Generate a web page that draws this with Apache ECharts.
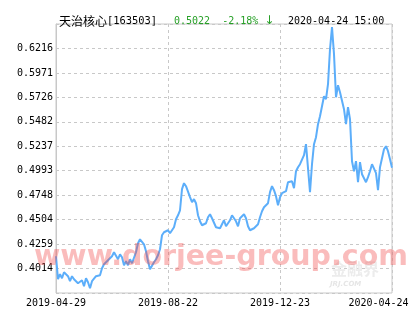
<!DOCTYPE html>
<html>
<head>
<meta charset="utf-8">
<script src="https://cdn.jsdelivr.net/npm/echarts@6/dist/echarts.min.js"></script>
<style>
html,body{margin:0;padding:0;background:#fff;}
#chart{width:415px;height:330px;}
</style>
</head>
<body>
<div id="chart"></div>
<script>
// ---- data ----
var fundName = '天治核心';
var fundCode = '[163503]';
var lastNav = '0.5022';
var lastChange = '-2.18%';
var lastArrow = '↓';
var lastTime = '2020-04-24 15:00';

var xTickLabels = ['2019-04-29', '2019-08-22', '2019-12-23', '2020-04-24'];
var yTickLabels = ['0.4014', '0.4259', '0.4504', '0.4748', '0.4993', '0.5237', '0.5482', '0.5726', '0.5971', '0.6216'];

var navValues = [
  0.4137, 0.3907, 0.3957, 0.3917, 0.3977, 0.3997, 0.3937, 0.3887, 0.3937, 0.3907,
  0.3927, 0.3867, 0.3877, 0.3897, 0.3837, 0.3917, 0.3877, 0.3817, 0.3887, 0.3907,
  0.3937, 0.3917, 0.3947, 0.4017, 0.4057, 0.4067, 0.4097, 0.4107, 0.4137, 0.4177,
  0.4187, 0.4107, 0.4157, 0.4127, 0.4047, 0.4087, 0.4047, 0.4107, 0.4067, 0.4087,
  0.4177, 0.4267, 0.4307, 0.4297, 0.4257, 0.4187, 0.4087, 0.4007, 0.3987, 0.4077,
  0.4107, 0.4147, 0.4207, 0.4347, 0.4377, 0.4367, 0.4397, 0.4367, 0.4387, 0.4427,
  0.4507, 0.4547, 0.4597, 0.4808, 0.4868, 0.4838, 0.4848, 0.4728, 0.4678, 0.4708,
  0.4668, 0.4547, 0.4487, 0.4447, 0.4437, 0.4467, 0.4527, 0.4557, 0.4517, 0.4497,
  0.4427, 0.4407, 0.4417, 0.4457, 0.4497, 0.4437, 0.4417, 0.4497, 0.4547, 0.4547,
  0.4487, 0.4437, 0.4517, 0.4507, 0.4557, 0.4517, 0.4437, 0.4397, 0.4387, 0.4417,
  0.4427, 0.4457, 0.4527, 0.4587, 0.4627, 0.4637, 0.4668, 0.4778, 0.4838, 0.4798,
  0.4738, 0.4647, 0.4728, 0.4768, 0.4768, 0.4788, 0.4878, 0.4898, 0.4888, 0.4818,
  0.4988, 0.5028, 0.5058, 0.5078, 0.5148, 0.5258, 0.5258, 0.4778, 0.5058, 0.5258,
  0.5328, 0.5458, 0.5538, 0.5558, 0.5738, 0.5708, 0.5858, 0.6209, 0.6429, 0.6159,
  0.5728, 0.5848, 0.5778, 0.5778, 0.5608, 0.5458, 0.5628, 0.5508, 0.5088, 0.4988,
  0.5088, 0.4878, 0.5078, 0.4958, 0.4948, 0.4878, 0.4928, 0.4988, 0.5058, 0.5078,
  0.4968, 0.4798, 0.5028, 0.5048, 0.5208, 0.5238, 0.5188, 0.5108, 0.5022
];

// ---- build options ----
var yTickVals = yTickLabels.map(Number);
var yStep = (yTickVals[yTickVals.length - 1] - yTickVals[0]) / (yTickVals.length - 1);
var yBase = yTickVals[0] - yStep;             // axis bottom (one step below first label)
var ySpan = yStep * (yTickVals.length + 1);   // axis top (one step above last label)
var xLast = navValues.length - 1;
var xStep = xLast / (xTickLabels.length - 1);

var seriesData = navValues.map(function (v, i) { return [i, v - yBase]; });

var mono = 'DejaVu Sans Mono';
var cjk = 'Noto Sans CJK SC';
var green = '#27a027';

var chart = echarts.init(document.getElementById('chart'), null, {renderer: 'canvas'});
chart.setOption({
  animation: false,
  backgroundColor: '#fff',
  title: [
    {
      text: '{a|' + fundName + '}{b|' + fundCode + '}',
      left: 54, top: 9,
      textStyle: {
        fontWeight: 'normal',
        rich: {
          a: {fontFamily: cjk, fontSize: 12, fontWeight: 'normal', color: '#000', lineHeight: 14},
          b: {fontFamily: mono, fontSize: 10.4, fontWeight: 'normal', color: '#000', lineHeight: 14}
        }
      }
    },
    {
      text: '{n|' + lastNav + '  ' + lastChange + ' }{a|' + lastArrow + '}',
      left: 169, top: 9,
      textStyle: {
        fontWeight: 'normal',
        rich: {
          n: {fontFamily: mono, fontSize: 10, fontWeight: 'normal', color: green, lineHeight: 14},
          a: {fontFamily: 'DejaVu Sans', fontSize: 12, fontWeight: 'normal', color: green, lineHeight: 14}
        }
      }
    },
    {
      text: lastTime,
      left: 283, top: 9,
      textStyle: {fontFamily: mono, fontSize: 10, fontWeight: 'normal', color: '#000', lineHeight: 14}
    }
  ],
  grid: {
    left: 56, right: 23, top: 24, bottom: 37,
    show: true, borderColor: '#c8c8c8', borderWidth: 1, backgroundColor: 'transparent'
  },
  xAxis: {
    type: 'value',
    min: 0, max: xLast, interval: xStep,
    axisLine: {show: false},
    axisTick: {show: false},
    splitLine: {show: true, lineStyle: {color: '#c8c8c8', type: [3, 3], width: 1}},
    axisLabel: {
      margin: 5,
      fontFamily: mono, fontSize: 10, color: '#000',
      showMinLabel: true, showMaxLabel: true,
      formatter: function (val) {
        var k = Math.round(val / xStep);
        var t = xTickLabels[k] || '';
        if (k === xTickLabels.length - 1) return '{last|' + t + '}';
        return t;
      },
      rich: {
        last: {fontFamily: mono, fontSize: 10, color: '#000', padding: [0, 27, 0, 0]}
      }
    }
  },
  yAxis: {
    type: 'value',
    min: 0, max: ySpan, interval: yStep,
    axisLine: {show: true, lineStyle: {color: '#c8c8c8'}},
    axisTick: {show: false},
    splitLine: {show: true, lineStyle: {color: '#c8c8c8', type: [3, 3], width: 1}},
    axisLabel: {
      margin: 3,
      fontFamily: mono, fontSize: 10, color: '#000',
      showMinLabel: false, showMaxLabel: false,
      formatter: function (val) {
        var k = Math.round(val / yStep) - 1;
        return yTickLabels[k] || '';
      }
    }
  },
  series: [{
    type: 'line',
    data: seriesData,
    showSymbol: false,
    smooth: false,
    lineStyle: {color: '#5caefa', width: 2},
    z: 2
  }],
  graphic: [
    {
      type: 'text', left: 331, top: 261, z: 1, silent: true,
      style: {text: '金融界', font: 'bold 16px "Noto Sans CJK SC"', fill: '#ececec'}
    },
    {
      type: 'text', left: 330, top: 281, z: 1, silent: true,
      style: {text: 'JRJ.COM', font: 'italic bold 7px "DejaVu Sans"', fill: '#e6e6e6'}
    },
    {
      type: 'text', z: 100, silent: true,
      right: 7, top: 243,
      style: {
        text: 'www.dorjee-group.com',
        font: 'bold 28.5px "DejaVu Sans"',
        fill: 'rgba(240,70,70,0.36)'
      }
    }
  ]
});
</script>
</body>
</html>
